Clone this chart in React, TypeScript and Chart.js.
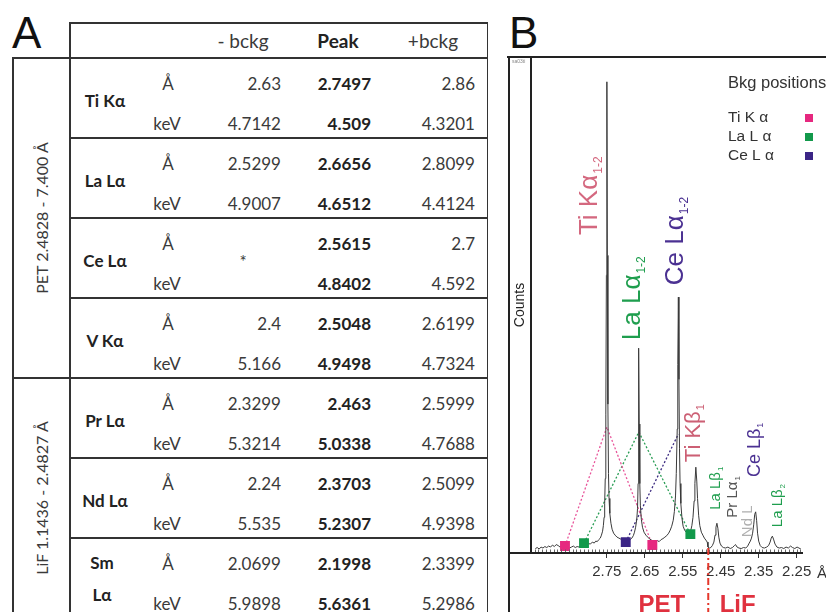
import React, { useEffect, useRef } from "react";
import { Chart, registerables } from "chart.js";

Chart.register(...registerables);

// ---------------- Panel A table data ----------------
const headerLabels = ["- bckg", "Peak", "+bckg"];
const elementLines = [["Ti Kα"], ["La Lα"], ["Ce Lα"], ["V Kα"], ["Pr Lα"], ["Nd Lα"], ["Sm", "Lα"]];
const minusAng = ["2.63", "2.5299", "", "2.4", "2.3299", "2.24", "2.0699"];
const minusKeV = ["4.7142", "4.9007", "", "5.166", "5.3214", "5.535", "5.9898"];
const peakAng = ["2.7497", "2.6656", "2.5615", "2.5048", "2.463", "2.3703", "2.1998"];
const peakKeV = ["4.509", "4.6512", "4.8402", "4.9498", "5.0338", "5.2307", "5.6361"];
const plusAng = ["2.86", "2.8099", "2.7", "2.6199", "2.5999", "2.5099", "2.3399"];
const plusKeV = ["4.3201", "4.4124", "4.592", "4.7324", "4.7688", "4.9398", "5.2986"];
const missingMark = ["", "", "*", "", "", "", ""];
const crystalLabels = ["PET 2.4828 - 7.400 Å", "LiF 1.1436 - 2.4827 Å"];
const crystalRowCounts = [4, 3];

// ---------------- Panel B spectrum data ----------------
const spectrumWl = [
  2.938, 2.933, 2.928, 2.923, 2.918, 2.913, 2.908, 2.903, 2.898, 2.893, 2.888, 2.883, 2.878, 2.873, 2.868,
  2.863, 2.858, 2.853, 2.848, 2.843, 2.838, 2.833, 2.828, 2.823, 2.818, 2.813, 2.808, 2.803, 2.798, 2.793,
  2.788, 2.783, 2.779, 2.775, 2.771, 2.767, 2.764, 2.761, 2.759, 2.757, 2.7555, 2.754, 2.7525, 2.751, 2.7497,
  2.7485, 2.747, 2.7455, 2.744, 2.742, 2.739, 2.736, 2.732, 2.728, 2.723, 2.718, 2.713, 2.708, 2.703, 2.698,
  2.693, 2.688, 2.684, 2.68, 2.677, 2.674, 2.671, 2.669, 2.6675, 2.6665, 2.6656, 2.6645, 2.663, 2.6615, 2.659,
  2.656, 2.652, 2.647, 2.642, 2.637, 2.632, 2.627, 2.622, 2.617, 2.612, 2.607, 2.602, 2.597, 2.592, 2.587,
  2.583, 2.579, 2.575, 2.572, 2.569, 2.567, 2.5645, 2.563, 2.5615, 2.56, 2.5585, 2.557, 2.555, 2.552, 2.549,
  2.545, 2.541, 2.537, 2.533, 2.529, 2.526, 2.523, 2.52, 2.518, 2.5155, 2.513, 2.511, 2.508, 2.505, 2.501,
  2.497, 2.493, 2.489, 2.4855, 2.4835, 2.48, 2.476, 2.472, 2.468, 2.465, 2.4625, 2.46, 2.4575, 2.455, 2.452,
  2.448, 2.443, 2.437, 2.431, 2.425, 2.419, 2.414, 2.411, 2.407, 2.402, 2.396, 2.39, 2.384, 2.379, 2.375,
  2.372, 2.369, 2.366, 2.363, 2.3605, 2.358, 2.3555, 2.353, 2.35, 2.346, 2.341, 2.335, 2.329, 2.324, 2.32,
  2.317, 2.314, 2.311, 2.307, 2.302, 2.296, 2.29, 2.284, 2.278, 2.272, 2.266, 2.261, 2.255, 2.249, 2.244, 2.239,
];
const spectrumCounts = [
  9, 11, 8, 12, 10, 13, 11, 14, 12, 16, 13, 17, 15, 12, 14,
  11, 15, 13, 10, 12, 14, 11, 13, 12, 15, 14, 17, 15, 19, 18,
  22, 20, 24, 23, 27, 30, 36, 44, 55, 72, 100, 150, 280, 560, 950,
  600, 300, 160, 110, 80, 60, 48, 40, 36, 32, 30, 28, 27, 25, 26,
  24, 27, 30, 35, 42, 52, 68, 90, 140, 250, 413, 260, 140, 95, 68,
  52, 42, 36, 32, 28, 26, 24, 22, 25, 23, 27, 29, 32, 35, 40,
  46, 54, 66, 84, 115, 160, 250, 380, 516, 350, 210, 140, 100, 70, 54,
  46, 42, 40, 41, 45, 55, 72, 105, 140, 173, 145, 110, 75, 55, 42,
  36, 30, 26, 22, 12, 10, 11, 15, 22, 36, 52, 60, 50, 32, 20,
  14, 11, 10, 12, 9, 11, 15, 17, 12, 10, 9, 11, 10, 14, 20,
  24, 30, 40, 58, 78, 83, 66, 40, 24, 15, 11, 10, 12, 15, 22,
  30, 34, 28, 18, 12, 10, 11, 9, 12, 10, 14, 11, 9, 12, 10, 8,
];

// background positions (Å) taken from the table, with spectrum level there
const tiBkgWl = [2.86, 2.63];
const tiBkgCounts = [14, 16];
const laBkgWl = [2.8099, 2.5299];
const laBkgCounts = [20, 38];
const ceBkgWl = [2.7];
const ceBkgCounts = [22];
// peak positions and height of the construction apex
const tiPeakWl = 2.7497;
const laPeakWl = 2.6656;
const cePeakWl = 2.5615;
const tiApexCount = 254;
const laApexCount = 244;
const ceApexCount = 240;

const xTickValues = [2.75, 2.65, 2.55, 2.45, 2.35, 2.25];
const xTickLabels = ["2.75", "2.65", "2.55", "2.45", "2.35", "2.25"];
const crystalBoundaryWl = 2.4828;
const crystalNames = ["PET", "LiF"];
const crystalNameWl = [2.6053, 2.4053];

const peakLabelText = ["Ti Kα", "La Lα", "Ce Lα", "Ti Kβ", "La Lβ", "Pr Lα", "Nd L", "Ce Lβ", "La Lβ"];
const peakLabelSub = ["1-2", "1-2", "1-2", "1", "1", "1", "", "1", "2"];
const peakLabelWl = [2.776, 2.663, 2.55, 2.5053, 2.4526, 2.408, 2.3684, 2.347, 2.2895];
const peakLabelCounts = [641, 429, 540, 183, 87, 71, 32, 153, 52];

const legendTitle = "Bkg positions";
const legendLabels = ["Ti K α", "La L α", "Ce L α"];

// ---------------- styles ----------------
const PINK = "#e6287f";
const GREEN = "#12994b";
const PURPLE = "#3b2586";
const peakLabelColors = ["#d4687f", "#1f9e4e", "#4b3192", "#cc5f74", "#1f9e4e", "#555555", "#b0b0b0", "#4b3192", "#1f9e4e"];
const peakLabelSizes = [26, 26, 26, 22, 15, 15, 15, 18, 15];
const FONT_B = '"Liberation Sans", Arial, sans-serif';
const FONT_A = 'Lato, "Open Sans", sans-serif';

function SpectrumChart() {
  const ref = useRef<HTMLCanvasElement | null>(null);
  useEffect(() => {
    const canvas = ref.current;
    if (!canvas) return;

    const drawRot = (ctx: CanvasRenderingContext2D, x: number, y: number, main: string, sub: string, size: number, color: string) => {
      ctx.save();
      ctx.translate(x, y);
      ctx.rotate(-Math.PI / 2);
      ctx.fillStyle = color;
      ctx.textAlign = "left";
      ctx.textBaseline = "alphabetic";
      ctx.font = `${size}px ${FONT_B}`;
      ctx.fillText(main, 0, 0);
      if (sub) {
        const w = ctx.measureText(main).width;
        const ss = Math.max(8, Math.round(size * 0.48));
        ctx.font = `${ss}px ${FONT_B}`;
        ctx.fillText(sub, w + 1, size * 0.2);
      }
      ctx.restore();
    };

    const decor = {
      id: "decor",
      afterDraw(chart: any) {
        const ctx: CanvasRenderingContext2D = chart.ctx;
        const { left, right, top, bottom } = chart.chartArea;
        const xs = chart.scales.x;
        const ys = chart.scales.y;
        const W = chart.width;
        const H = chart.height;
        const outer = ys.left;
        ctx.save();
        // frame lines
        ctx.strokeStyle = "#222";
        ctx.lineWidth = 2;
        ctx.beginPath();
        ctx.moveTo(outer - 2, top);
        ctx.lineTo(W, top);
        ctx.moveTo(outer, top);
        ctx.lineTo(outer, H);
        ctx.moveTo(outer, bottom);
        ctx.lineTo(left, bottom);
        ctx.stroke();
        // minor ticks every 0.01 Å
        ctx.strokeStyle = "#666";
        ctx.lineWidth = 1;
        ctx.beginPath();
        for (let k = 224; k <= 294; k++) {
          const px = Math.round(xs.getPixelForValue(k / 100)) + 0.5;
          ctx.moveTo(px, bottom - 3.5);
          ctx.lineTo(px, bottom - 1);
        }
        ctx.stroke();
        // tiny instrument tag
        ctx.fillStyle = "#888";
        ctx.font = `5px ${FONT_B}`;
        ctx.textBaseline = "top";
        ctx.textAlign = "left";
        ctx.fillText("sa03ti", outer + 3, top + 2);
        // crystal boundary
        const bx = xs.getPixelForValue(crystalBoundaryWl);
        ctx.strokeStyle = "#e5372b";
        ctx.lineWidth = 2;
        ctx.setLineDash([7, 3, 2, 3]);
        ctx.beginPath();
        ctx.moveTo(bx, bottom - 5);
        ctx.lineTo(bx, H);
        ctx.stroke();
        ctx.setLineDash([]);
        // crystal names
        ctx.fillStyle = "#e0313f";
        ctx.font = `bold 24px ${FONT_B}`;
        ctx.textAlign = "center";
        ctx.textBaseline = "alphabetic";
        crystalNames.forEach((n, i) => ctx.fillText(n, xs.getPixelForValue(crystalNameWl[i]), H));
        // axis unit
        ctx.fillStyle = "#333";
        ctx.font = `15px ${FONT_B}`;
        ctx.textAlign = "left";
        ctx.textBaseline = "middle";
        ctx.fillText("Å", right + 15, bottom + 21);
        // peak labels
        peakLabelText.forEach((t, i) => {
          drawRot(ctx, xs.getPixelForValue(peakLabelWl[i]), ys.getPixelForValue(peakLabelCounts[i]), t, peakLabelSub[i], peakLabelSizes[i], peakLabelColors[i]);
        });
        // legend
        const lx = right - 74;
        ctx.fillStyle = "#333";
        ctx.textAlign = "left";
        ctx.textBaseline = "middle";
        ctx.font = `16.5px ${FONT_B}`;
        ctx.fillText(legendTitle, lx, top + 26);
        ctx.font = `15.5px ${FONT_B}`;
        const cols = [PINK, GREEN, PURPLE];
        legendLabels.forEach((l, i) => {
          const yy = top + 61 + i * 19;
          ctx.fillStyle = "#333";
          ctx.fillText(l, lx, yy);
          ctx.fillStyle = cols[i];
          ctx.fillRect(right + 3, yy - 4, 8, 8);
        });
        ctx.restore();
      },
    };

    const pts = (xs: number[], ys: number[]) => xs.map((x, i) => ({ x, y: ys[i] }));

    const chart = new Chart(canvas, {
      type: "line",
      data: {
        datasets: [
          {
            label: "bkg squares Ti",
            data: pts(tiBkgWl, tiBkgCounts),
            showLine: false,
            pointStyle: "rect",
            pointRadius: 7,
            backgroundColor: PINK,
            borderColor: PINK,
            borderWidth: 0,
            order: 0,
          },
          {
            label: "bkg squares La",
            data: pts(laBkgWl, laBkgCounts),
            showLine: false,
            pointStyle: "rect",
            pointRadius: 7,
            backgroundColor: GREEN,
            borderColor: GREEN,
            borderWidth: 0,
            order: 0,
          },
          {
            label: "bkg squares Ce",
            data: pts(ceBkgWl, ceBkgCounts),
            showLine: false,
            pointStyle: "rect",
            pointRadius: 7,
            backgroundColor: PURPLE,
            borderColor: PURPLE,
            borderWidth: 0,
            order: 0,
          },
          {
            label: "spectrum",
            data: pts(spectrumWl, spectrumCounts),
            borderColor: "#3a3a3a",
            borderWidth: 1,
            pointRadius: 0,
            tension: 0,
            order: 1,
          },
          {
            label: "Ti construction",
            data: [
              { x: tiBkgWl[0], y: tiBkgCounts[0] },
              { x: tiPeakWl, y: tiApexCount },
              { x: tiBkgWl[1], y: tiBkgCounts[1] },
            ],
            borderColor: "#e8559a",
            borderWidth: 1.3,
            borderDash: [2, 2],
            pointRadius: 0,
            order: 2,
          },
          {
            label: "La construction",
            data: [
              { x: laBkgWl[0], y: laBkgCounts[0] },
              { x: laPeakWl, y: laApexCount },
              { x: laBkgWl[1], y: laBkgCounts[1] },
            ],
            borderColor: "#2a9d55",
            borderWidth: 1.3,
            borderDash: [2, 2],
            pointRadius: 0,
            order: 2,
          },
          {
            label: "Ce construction",
            data: [
              { x: ceBkgWl[0], y: ceBkgCounts[0] },
              { x: cePeakWl, y: ceApexCount },
            ],
            borderColor: "#3b2a80",
            borderWidth: 1.3,
            borderDash: [2, 2],
            pointRadius: 0,
            order: 2,
          },
        ],
      },
      options: {
        responsive: false,
        animation: false,
        devicePixelRatio: 1,
        layout: { padding: { left: 9, top: 57, right: 24, bottom: 26 } },
        plugins: { legend: { display: false }, tooltip: { enabled: false } },
        scales: {
          x: {
            type: "linear",
            reverse: true,
            min: 2.236,
            max: 2.95,
            afterBuildTicks: (axis: any) => {
              axis.ticks = xTickValues.map((v) => ({ value: v }));
            },
            ticks: {
              callback: (_v: any, i: number) => xTickLabels[i],
              font: { size: 15, family: FONT_B },
              color: "#333",
              padding: 5,
              autoSkip: false,
              maxRotation: 0,
            },
            grid: { drawOnChartArea: false, drawTicks: true, tickLength: 5, color: "#333", lineWidth: 1 },
            border: { display: true, color: "#222", width: 2 },
          },
          y: {
            type: "linear",
            min: 0,
            max: 1000,
            ticks: { display: false },
            grid: { display: false, drawTicks: false, tickLength: 0 },
            border: { display: true, color: "#222", width: 2 },
            title: {
              display: true,
              text: "Counts",
              font: { size: 14, family: FONT_B },
              color: "#222",
              padding: { top: 3, bottom: 2 },
            },
          },
        },
      },
      plugins: [decor],
    } as any);
    return () => chart.destroy();
  }, []);
  return (
    <canvas
      ref={ref}
      width={326}
      height={612}
      style={{ position: "absolute", left: 500, top: 0, width: 326, height: 612 }}
    />
  );
}

function TableA() {
  const items: React.ReactNode[] = [];
  const line = (key: string, left: number, top: number, width: number, height: number) =>
    items.push(<div key={key} style={{ position: "absolute", left, top, width, height, background: "#333" }} />);
  const text = (key: string, s: string, cx: number, cy: number, align: "left" | "right" | "center", bold = false, size = 17, w = 90) => {
    const left = align === "right" ? cx - w : align === "center" ? cx - w / 2 : cx;
    items.push(
      <div
        key={key}
        style={{
          position: "absolute",
          left,
          top: cy - 12,
          width: w,
          height: 24,
          lineHeight: "24px",
          textAlign: align,
          fontWeight: bold ? 700 : 400,
          fontFamily: FONT_A,
          fontSize: size,
          color: bold ? "#222" : "#3a3a3a",
          whiteSpace: "nowrap",
        }}
      >
        {s}
      </div>
    );
  };

  // outer structure
  line("htop", 70, 22, 418, 1.5);
  line("hbot", 12, 57, 476, 2);
  line("vl", 69, 22, 1.5, 590);
  line("vr", 486.5, 22, 1.5, 590);
  line("vo", 12, 57, 2, 555);

  const headCenters = [243, 338, 433];
  headerLabels.forEach((h, i) => text("h" + i, h, headCenters[i], 41, "center", i === 1, 19, 100));

  elementLines.forEach((lines, i) => {
    const T = 58 + 80 * i;
    if (i > 0) {
      const crystalStart = i === crystalRowCounts[0];
      line("sep" + i, crystalStart ? 12 : 70, T - 1, crystalStart ? 476 : 418, crystalStart ? 2 : 1.5);
    }
    if (lines.length === 1) text("el" + i, lines[0], 105, T + 43, "center", true);
    else {
      text("el" + i + "a", lines[0], 102, T + 25, "center", true);
      text("el" + i + "b", lines[1], 102, T + 57, "center", true);
    }
    text("ua" + i, "Å", 168, T + 25.5, "center");
    text("uk" + i, "keV", 167, T + 65.5, "center");
    text("ma" + i, minusAng[i], 281, T + 25.5, "right");
    text("mk" + i, minusKeV[i], 281, T + 65.5, "right");
    text("pa" + i, peakAng[i], 371, T + 25.5, "right", true);
    text("pk" + i, peakKeV[i], 371, T + 65.5, "right", true);
    text("qa" + i, plusAng[i], 475, T + 25.5, "right");
    text("qk" + i, plusKeV[i], 475, T + 65.5, "right");
    if (missingMark[i]) text("mm" + i, missingMark[i], 243, T + 44, "center");
  });

  let start = 58;
  crystalLabels.forEach((c, i) => {
    const h = crystalRowCounts[i] * 80;
    const cy = start + h / 2;
    items.push(
      <div
        key={"cr" + i}
        style={{
          position: "absolute",
          left: 41,
          top: cy,
          transform: "translate(-50%, -50%) rotate(-90deg)",
          fontFamily: FONT_A,
          fontSize: 16,
          color: "#3a3a3a",
          whiteSpace: "nowrap",
        }}
      >
        {c}
      </div>
    );
    start += h;
  });

  return <>{items}</>;
}

export default function App() {
  const letter = (s: string, left: number) => (
    <div
      style={{
        position: "absolute",
        left,
        top: 11,
        fontFamily: FONT_B,
        fontSize: 44,
        lineHeight: "44px",
        color: "#111",
      }}
    >
      {s}
    </div>
  );
  return (
    <div
      style={{
        position: "fixed",
        left: 0,
        top: 0,
        width: 826,
        height: 612,
        overflow: "hidden",
        background: "#fff",
      }}
    >
      {letter("A", 12)}
      {letter("B", 509)}
      <TableA />
      <SpectrumChart />
    </div>
  );
}
